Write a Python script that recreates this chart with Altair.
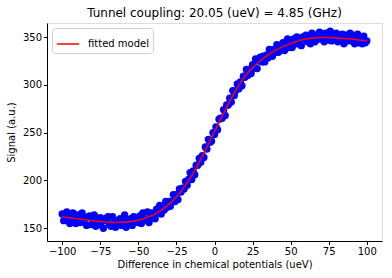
import altair as alt
import pandas as pd

# measured signal (scatter points), x = -100 .. 100 step 1 (ueV)
x_points = list(range(-100, 101))
y_points = [
    165, 158, 163, 167, 159, 155, 163, 166, 159, 155,
    164, 160, 156, 166, 157, 160, 153, 162, 163, 154,
    157, 164, 152, 159, 154, 161, 157, 150, 160, 158,
    162, 154, 152, 162, 157, 151, 158, 155, 160, 153,
    156, 164, 151, 159, 155, 160, 153, 162, 158, 157,
    156, 163, 155, 166, 160, 159, 167, 156, 166, 162,
    166, 160, 170, 166, 174, 165, 171, 169, 178, 172,
    178, 173, 178, 185, 178, 185, 180, 191, 188, 192,
    191, 199, 195, 201, 208, 201, 210, 206, 216, 216,
    223, 219, 226, 224, 235, 233, 243, 240, 241, 250,
    248, 256, 253, 264, 265, 265, 274, 268, 279, 279,
    286, 282, 294, 289, 294, 301, 296, 303, 299, 309,
    308, 316, 310, 316, 312, 321, 317, 327, 317, 325,
    329, 324, 330, 324, 331, 328, 337, 333, 330, 337,
    334, 342, 334, 341, 338, 344, 336, 343, 348, 339,
    344, 339, 348, 343, 350, 343, 348, 341, 350, 348,
    352, 345, 349, 343, 354, 351, 345, 352, 348, 355,
    348, 353, 345, 354, 350, 347, 356, 346, 352, 349,
    354, 345, 351, 347, 353, 343, 352, 349, 346, 354,
    347, 352, 343, 350, 353, 344, 348, 343, 351, 344, 346,
]

# fitted model curve
x_fit = [-100, -95, -90, -85, -80, -75, -70, -65, -60, -55, -50, -45, -40, -35,
         -30, -25, -20, -15, -10, -5, 0, 5, 10, 15, 20, 25, 30, 35, 40, 45, 50,
         55, 60, 65, 70, 75, 80, 85, 90, 95, 100]
y_fit = [162, 161, 160, 159, 158, 157, 156.5, 156, 156.5, 157, 158.5, 161, 164,
         169, 175, 183, 193, 205, 219, 235, 251, 267, 283, 297, 309, 318, 325,
         331, 336, 340, 343, 346, 348, 349, 349.5, 349.5, 349, 348.5, 348, 347, 346]
fit_label = ["fitted model"] * len(x_fit)

x_ticks = [-100, -75, -50, -25, 0, 25, 50, 75, 100]
y_ticks = [150, 200, 250, 300, 350]

pts = pd.DataFrame({"x": x_points, "y": y_points})
fit = pd.DataFrame({"x": x_fit, "y": y_fit, "series": fit_label})

FONT = "DejaVu Sans"
xscale = alt.Scale(domain=[-110, 110], nice=False, zero=False)
yscale = alt.Scale(domain=[136.7, 364.7], nice=False, zero=False)

xaxis = alt.Axis(values=x_ticks, title="Difference in chemical potentials (ueV)",
                 grid=False, tickSize=3.5, labelPadding=2, domainColor="black",
                 tickColor="black", labelColor="black", labelFontSize=10,
                 labelFont=FONT, titleFont=FONT, titleFontSize=10,
                 titleFontWeight="normal", titleColor="black", titlePadding=3)
yaxis = alt.Axis(values=y_ticks, title="Signal (a.u.)", grid=False, tickSize=3.5,
                 labelPadding=2, domainColor="black", tickColor="black",
                 labelColor="black", labelFontSize=10, labelFont=FONT,
                 titleFont=FONT, titleFontSize=10, titleFontWeight="normal",
                 titleColor="black", titlePadding=6)

points = alt.Chart(pts).mark_circle(size=55, color="#0000ff", opacity=1).encode(
    x=alt.X("x:Q", scale=xscale, axis=xaxis),
    y=alt.Y("y:Q", scale=yscale, axis=yaxis),
)

line = alt.Chart(fit).mark_line(strokeWidth=1.5, interpolate="monotone").encode(
    x=alt.X("x:Q", scale=xscale),
    y=alt.Y("y:Q", scale=yscale),
    color=alt.Color(
        "series:N",
        scale=alt.Scale(domain=["fitted model"], range=["#ff0000"]),
        legend=alt.Legend(
            title=None, orient="top-left", offset=5, symbolType="stroke",
            symbolSize=484, symbolStrokeWidth=1.5, labelFontSize=10,
            labelFont=FONT, labelColor="black", labelOffset=8,
            fillColor="white", strokeColor="#d0d0d0", cornerRadius=3,
            padding=4,
        ),
    ),
)

chart = alt.layer(points, line).properties(
    width=335,
    height=218,
    autosize=alt.AutoSizeParams(type="none"),
    padding={"left": 47, "top": 23, "right": 10, "bottom": 37},
    title=alt.Title("Tunnel coupling: 20.05 (ueV) = 4.85 (GHz)", font=FONT,
                    fontSize=12, fontWeight="normal", color="black", offset=3),
).configure_view(stroke="black", strokeWidth=0.8).configure(background="white")

chart.save("out.html", embed_options={"renderer": "svg", "actions": False})
